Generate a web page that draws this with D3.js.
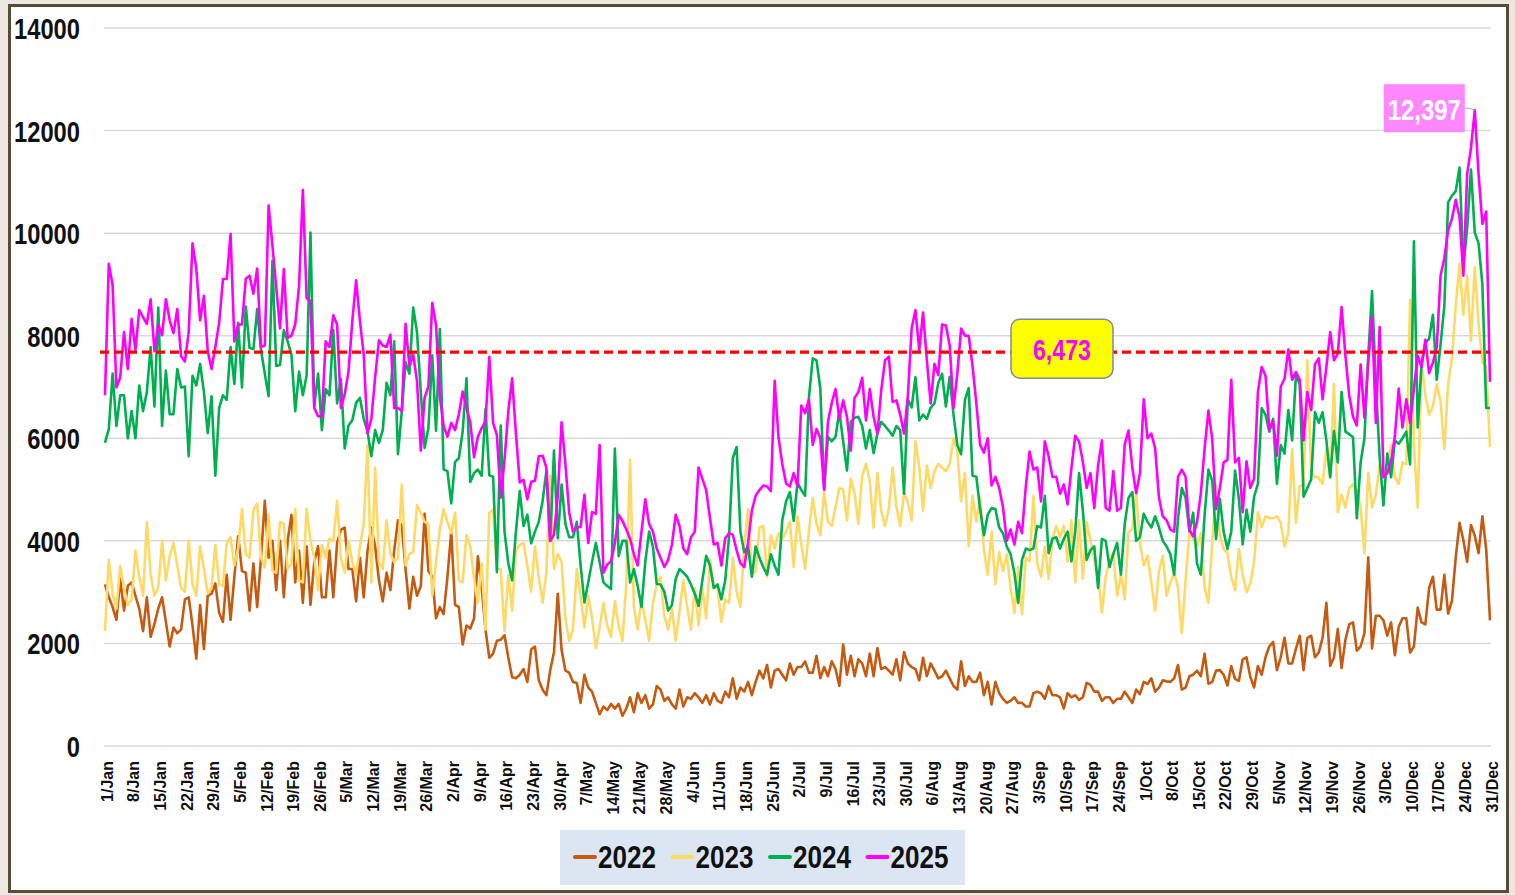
<!DOCTYPE html>
<html>
<head>
<meta charset="utf-8">
<script src="https://cdnjs.cloudflare.com/ajax/libs/d3/7.8.5/d3.min.js"></script>
<style>
  html, body { margin: 0; padding: 0; background: #ebe7e1; }
  svg { display: block; }
  .ylab { font-family: "Liberation Sans", Arial, sans-serif; font-weight: bold; }
  .xlab { font-family: "Liberation Sans", Arial, sans-serif; font-weight: bold; }
</style>
</head>
<body>
<svg id="chart" width="1515" height="895"></svg>
<script>
// ---------------- DATA ----------------
const seriesNames = ["2022", "2023", "2024", "2025"];
const seriesColors = ["#c55a11", "#ffd966", "#00b050", "#ff00ff"];

const yTicks = [0, 2000, 4000, 6000, 8000, 10000, 12000, 14000];

const xTickLabels = ["1/Jan","8/Jan","15/Jan","22/Jan","29/Jan","5/Feb","12/Feb","19/Feb","26/Feb",
  "5/Mar","12/Mar","19/Mar","26/Mar","2/Apr","9/Apr","16/Apr","23/Apr","30/Apr","7/May","14/May",
  "21/May","28/May","4/Jun","11/Jun","18/Jun","25/Jun","2/Jul","9/Jul","16/Jul","23/Jul","30/Jul",
  "6/Aug","13/Aug","20/Aug","27/Aug","3/Sep","10/Sep","17/Sep","24/Sep","1/Oct","8/Oct","15/Oct",
  "22/Oct","29/Oct","5/Nov","12/Nov","19/Nov","26/Nov","3/Dec","10/Dec","17/Dec","24/Dec","31/Dec"];

const averageLineValue = 7680;
const averageLabel = "6,473";
const peakLabel = "12,397";

const values2022 = [
3150,2900,2710,2460,3260,2640,3120,3190,2930,2680,
2240,2900,2130,2380,2680,2900,2420,1940,2310,2200,
2270,2860,2900,2350,1700,2750,1890,2930,2970,3170,
2600,2420,3340,2460,3300,4090,3410,3380,2640,3560,
2710,3670,4780,3670,4000,3040,4000,2900,4000,4510,
3190,3810,2790,3890,2750,3590,3900,2900,2900,3810,
2900,3960,4220,4260,3450,3450,2820,3670,2900,3810,
4260,3890,3230,
2820,3380,3040,3810,4400,4290,3450,2680,3300,2930,
3120,4530,3410,3300,2490,2710,2570,3300,4180,2750,
2710,1980,2350,2290,2490,3700,3080,2270,1720,1800,
2050,2070,2160,1720,1340,1320,1390,1500,1250,1880,
1940,1280,1100,990,1470,1830,2970,1870,1470,1430,
1250,1230,840,1390,1140,1060,840,620,770,700,
820,730,820,590,730,950,660,1030,840,990,
730,810,1170,
1100,880,950,810,730,1100,770,950,920,1030,
950,840,990,810,1030,880,840,1060,950,1320,
920,1140,1060,1250,990,1250,1470,1320,1580,1140,
1470,1500,1390,1280,1610,1390,1540,1540,1650,1430,
1430,1760,1320,1540,1360,1650,1500,1170,1980,1390,
1760,1360,1690,1610,1360,1800,1360,1910,1500,1540,
1470,1390,1690,1280,1830,1610,1540,1500,1280,1720,
1360,1610,1470,1320,1360,
1470,1320,1170,1100,1650,1170,1360,1250,1250,1430,
990,1250,810,1250,1030,920,840,880,950,840,
840,770,770,1030,1060,1030,920,1170,990,990,
950,730,1030,950,990,900,950,1230,1190,1060,
1060,880,950,950,840,920,920,1060,950,840,
1100,1010,1250,1210,1320,1060,1140,1280,1260,1250,
1320,1580,1100,1140,1360,1390,1470,1360,1800,1210,
1250,1470,
1480,1390,1180,1560,1310,1270,1690,1730,1350,1140,
1560,1390,1730,1940,2030,1480,1730,2110,1610,1610,
1900,2150,1480,2110,2150,1730,1820,2110,2790,1560,
1730,2280,1520,2070,2370,2410,1860,1940,2200,3680,
1900,2540,2540,2450,2150,2410,1770,2320,2490,2490,
1820,1940,2700,2410,2370,3080,3300,2660,2660,3340,
2580,2830,3680,4350,4010,3590,4310,4100,3760,4480,
3840,2450];

const values2023 = [
2240,3630,2970,2680,3520,3080,2750,2860,3810,3300,
2930,4370,3340,2930,3080,4000,3230,3700,3960,3520,
3080,3010,4000,3160,2930,3890,3450,2970,3080,3920,
3160,3120,3960,4070,3520,3850,4620,3740,3670,4590,
4730,3670,3480,4510,3410,3380,4370,4330,3450,3560,
4620,3230,3190,4630,4000,3670,3040,3920,3670,4040,
4000,4780,3670,3380,4000,3590,3340,3890,4330,5870,
3190,5430,3590,
3450,4400,3740,3590,3670,5100,3520,3740,3780,4700,
4550,4370,4330,2930,3590,4220,4620,4370,4150,4550,
3230,3190,4110,3890,3260,2790,3560,2270,4550,4610,
3450,3450,2240,3340,2640,3810,3920,3960,3520,3010,
3890,3300,2790,3380,5270,3450,3740,3590,2490,2050,
2270,3450,2930,2310,2930,2490,1910,2310,2790,2350,
2130,2820,2350,2050,3160,5580,2710,2270,2860,2460,
2050,2790,3160,
3300,2530,2270,2680,2050,2640,3230,2710,2270,3080,
2350,3080,2490,3630,3080,3080,2420,2860,2790,3670,
3010,2710,3890,4620,3340,3410,4260,4290,3300,4110,
3850,4150,4040,4180,4370,3490,4480,3930,3450,4180,
4840,4330,4110,4950,4370,4290,4660,5030,5000,4400,
5210,4920,4330,5270,5500,5170,4260,5320,4590,4290,
4620,5430,4660,4290,4930,4770,4400,5940,5430,4590,
5470,5030,5360,5500,5430,
5360,5500,6000,5760,4770,5320,3890,4880,4370,4860,
3820,3340,4180,3150,3780,3410,3740,3080,2600,3490,
2570,3670,3600,4880,3560,3300,3890,3260,4040,4290,
4070,4290,3600,4400,3190,4400,3260,4370,4000,3630,
3340,2600,3300,3600,3780,2930,3340,2860,4180,4220,
4920,3960,3520,3710,3190,2640,3410,3710,2930,3190,
3380,3080,2200,3230,4150,4040,3890,4150,3080,2790,
3960,5100,
4100,3840,3760,3300,3040,3840,3340,3000,3170,3590,
4560,4270,4480,4440,4440,4480,4350,3890,4140,5790,
4350,5070,5070,7520,5370,5240,5240,5110,5790,5240,
7060,4560,4900,4650,5030,5110,4990,4650,3760,5320,
4650,4900,5490,5320,5490,5870,5240,5110,5530,5490,
8700,5870,4650,7480,6840,6460,6630,7060,6720,5790,
7060,7560,8580,9400,8410,9170,7900,9340,8240,7480,
7390,5830];

const values2024 = [
5910,6180,7260,6240,6840,6840,6000,6530,6000,7030,
6530,6900,7780,6620,8550,6240,7320,6470,6470,7350,
6990,7010,5650,7220,7030,7450,6900,6100,6820,5270,
6590,6840,6750,7780,7060,8250,6990,8570,7760,7740,
8520,7720,7260,6820,9460,7410,7430,8110,7890,7630,
6530,7300,6840,7230,10010,6620,7260,6160,6960,6840,
8110,6680,7160,5800,6250,6350,6690,6790,6380,6130,
5650,6160,5910,
6160,7080,6840,7890,5690,6530,7480,7260,8550,8070,
6900,5810,6200,7620,6150,8130,5390,5360,4730,5540,
5610,6130,7170,5150,5320,5390,5270,6570,5280,5250,
3390,6250,4180,3560,3230,4180,4970,4290,4510,3950,
4180,4370,4770,5360,4000,5760,4050,5100,4330,4070,
4070,4370,3520,2800,3190,3590,3960,3590,3190,3120,
3060,5800,3700,4000,4000,3190,3450,3120,2710,3590,
4180,3890,3160,
3150,3010,2640,2750,3260,3450,3380,3300,3150,2970,
2730,3230,3710,3520,3080,3150,2860,3230,4070,5610,
5830,4180,3780,3890,3300,3890,3670,3490,3340,3740,
3520,3340,4400,4770,4950,4390,5140,4990,4880,6790,
7560,7520,6970,5000,6030,5940,6030,6530,5940,5370,
6320,6400,6420,6240,5800,6160,5710,6090,6320,6240,
6150,6050,6240,6160,4920,6760,6600,7190,6350,6460,
6380,6600,6680,7080,7260,
6620,7200,6460,5870,5690,6750,6980,5270,5250,4620,
4110,4510,4640,4620,4260,4150,3890,3740,3380,2790,
3630,3850,3820,3850,4290,4260,4880,3760,4040,4070,
3850,4040,4180,3600,4180,5320,4590,3630,3820,3890,
3080,4040,4000,3490,3740,3960,3340,4330,4840,4950,
4000,4070,4530,4370,4260,4480,4260,4000,3890,3740,
3340,4440,5030,4840,4180,4550,3560,3340,4510,5390,
5170,4040,
4820,4180,3840,4180,5370,4820,3930,4610,4180,4860,
5110,6590,6460,6130,6380,5110,5870,5700,6550,5960,
7220,7060,4860,5030,5200,6510,6300,6510,5960,5240,
6140,5530,6900,6130,6080,6020,4440,5530,6000,7610,
8870,7060,5620,4690,5700,5240,5960,5890,6000,6130,
5490,9840,6210,7440,7860,7940,8410,7140,7820,8580,
10600,10730,10820,11280,9340,10100,11240,10010,9800,9000,
6590,6590];

const values2025 = [
6840,9400,8990,6990,7190,8070,7350,8330,7720,8500,
8360,8230,8710,7700,8220,8010,8710,8300,8050,8520,
7600,7500,8070,9800,9310,8300,8780,7700,7350,7780,
8250,9100,9110,9980,7890,8220,8220,9110,9170,8820,
9310,7780,7810,10540,9760,8950,8140,9300,7960,8000,
8220,8970,10840,8730,8670,6590,6430,6430,7890,7780,
8400,8220,6590,6860,7300,8290,9080,8290,7630,6100,
6380,7190,7910,
7810,7780,8020,6590,6590,6530,8230,7410,7630,7120,
5760,6790,7010,8640,8220,6820,6240,6030,6300,6160,
6470,6910,6600,6310,5630,6030,6200,6320,7590,6300,
6060,4840,5580,6530,7170,6090,5140,5190,4810,5150,
5170,5650,5660,5430,4000,4120,4880,6310,5500,4550,
4180,4260,4270,4900,3960,4560,4530,5870,3380,3540,
3600,3960,4510,4390,4220,4040,3740,3520,4180,4810,
4330,4180,3850,
3670,3490,3630,3930,4510,4290,3850,3740,4070,4180,
5430,5210,4990,4440,3930,3960,3520,4050,4150,4120,
3820,3560,3490,3960,4590,4880,4990,5080,5060,4970,
7120,6020,5500,5120,5060,5320,5060,6640,6490,6760,
5870,6180,6000,5000,6320,6690,6960,6380,6740,6420,
5760,6790,6900,7180,6350,6960,6420,6090,6930,7520,
7590,6710,6740,6460,6090,6820,8140,8500,7720,8450,
7520,6680,7450,7230,8220,
8200,7810,6590,7260,8140,8000,8000,7410,6680,5870,
5720,6000,5080,5250,5030,4660,4000,4220,3930,4370,
4150,5060,5740,5390,5430,4770,5940,5650,5250,5250,
4920,5100,4710,5430,6050,5940,5540,5030,5320,4640,
5470,5960,4640,4590,5360,4590,4640,5880,6150,5430,
4930,5320,6760,6000,6090,5800,4840,4480,4400,4220,
4180,5250,5390,5250,4220,4090,4370,4920,5810,6540,
5980,4620,
5030,5530,5580,7140,5530,5620,4560,5550,5030,5210,
6900,7390,7220,6170,6340,5660,7010,7160,7730,7140,
7290,7140,5960,6900,6550,7440,7560,6760,7390,8070,
7520,7650,8560,7610,6840,6420,6250,7440,6400,7480,
8370,6300,8170,5240,5320,5550,6040,6970,6210,6760,
6300,6970,7610,7390,7920,7270,7480,7770,9170,9510,
10060,10280,10650,10310,9170,11150,11660,12397,11150,10180,
10420,7100];

const allSeries = [values2022, values2023, values2024, values2025];

// ---------------- LAYOUT ----------------
const W = 1515, H = 895;
const plot = { left: 105, right: 1490, top: 28, bottom: 746 };
const DIGIT_W = 13.2; // rendered width of one bold digit in the condensed labels

const svg = d3.select("#chart");

function condense(sel, perChar) {
  sel.attr("textLength", function () {
    const t = this.textContent;
    let w = 0;
    for (const c of t) w += (c === "," ? 0.5 : 1) * perChar;
    return w;
  }).attr("lengthAdjust", "spacingAndGlyphs");
}

// outer frame
svg.append("rect").attr("x", 0).attr("y", 0).attr("width", W).attr("height", H).attr("fill", "#ebe7e1");
svg.append("rect").attr("x", 9.5).attr("y", 5.5).attr("width", 1498).attr("height", 886)
  .attr("fill", "#ffffff").attr("stroke", "#5a4a36").attr("stroke-width", 3);

const nDays = values2025.length;
const x = d3.scaleLinear().domain([1, nDays]).range([plot.left, plot.right]);
const y = d3.scaleLinear().domain([0, 14000]).range([plot.bottom, plot.top]);

// gridlines
svg.append("g").selectAll("line").data(yTicks).join("line")
  .attr("x1", plot.left - 1).attr("x2", plot.right + 1)
  .attr("y1", d => y(d)).attr("y2", d => y(d))
  .attr("stroke", "#d9d9d9").attr("stroke-width", 1.5);

// y axis labels
const yAxis = d3.axisLeft(y).tickValues(yTicks).tickSize(0).tickPadding(0).tickFormat(d3.format("d"));
const gy = svg.append("g").attr("transform", "translate(80,0)").call(yAxis);
gy.select(".domain").remove();
gy.selectAll("text").attr("class", "ylab").attr("font-size", 29).attr("fill", "#111")
  .attr("dy", "0.36em").call(condense, DIGIT_W);

// x axis labels (weekly)
const tickDays = xTickLabels.map((_, i) => 1 + i * 7);
const xAxis = d3.axisBottom(x).tickValues(tickDays).tickSize(0)
  .tickFormat((d, i) => xTickLabels[i]);
const gx = svg.append("g").attr("transform", `translate(0,${plot.bottom})`).call(xAxis);
gx.select(".domain").remove();
gx.selectAll("text")
  .attr("class", "xlab")
  .attr("font-size", 16)
  .attr("fill", "#111")
  .attr("text-anchor", "end")
  .attr("transform", "rotate(-90)")
  .attr("x", -15)
  .attr("y", 1.5)
  .attr("dy", "0.36em");

// series lines
const line = d3.line().x((d, i) => x(i + 1)).y(d => y(d)).curve(d3.curveLinear);
svg.append("g").selectAll("path").data(allSeries).join("path")
  .attr("d", d => line(d))
  .attr("fill", "none")
  .attr("stroke", (d, i) => seriesColors[i])
  .attr("stroke-width", 2.6)
  .attr("stroke-linejoin", "round");

// average dashed line
svg.append("line")
  .attr("x1", plot.left - 5).attr("x2", plot.right)
  .attr("y1", y(averageLineValue)).attr("y2", y(averageLineValue))
  .attr("stroke", "#ff0000").attr("stroke-width", 3.2).attr("stroke-dasharray", "9,5");

// average label box
const avgX = 1062, avgY = y(averageLineValue);
svg.append("rect").attr("x", avgX - 51).attr("y", avgY - 33).attr("width", 102).attr("height", 59)
  .attr("rx", 9).attr("fill", "#ffff00").attr("stroke", "#7d8ba0").attr("stroke-width", 1.5);
svg.append("text").attr("class", "ylab").attr("x", avgX).attr("y", avgY + 8)
  .attr("text-anchor", "middle").attr("font-size", 29).attr("fill", "#ff00ff").text(averageLabel)
  .call(condense, 12.9);

// peak label
const peakIdx = values2025.indexOf(d3.max(values2025));
const px = x(peakIdx + 1), py = y(values2025[peakIdx]);
svg.append("path")
  .attr("d", `M${px - 11},${py - 2} Q${px - 4},${py - 3} ${px},${py}`)
  .attr("fill", "none").attr("stroke", "#a6a6a6").attr("stroke-width", 1);
svg.append("rect").attr("x", px - 91).attr("y", py - 26).attr("width", 81).attr("height", 48)
  .attr("fill", "#ff88ff");
svg.append("text").attr("class", "ylab").attr("x", px - 50.5).attr("y", py + 10)
  .attr("text-anchor", "middle").attr("font-size", 29).attr("fill", "#ffffff").text(peakLabel)
  .call(condense, 13.3);

// legend
const lg = svg.append("g");
lg.append("rect").attr("x", 560).attr("y", 830).attr("width", 405).attr("height", 55).attr("fill", "#dce6f2");
seriesNames.forEach((name, i) => {
  const ox = 575 + i * 97.5;
  lg.append("line").attr("x1", ox).attr("x2", ox + 20).attr("y1", 857).attr("y2", 857)
    .attr("stroke", seriesColors[i]).attr("stroke-width", 4).attr("stroke-linecap", "round");
  lg.append("text").attr("class", "ylab").attr("x", ox + 23).attr("y", 868)
    .attr("font-size", 32).attr("fill", "#111").text(name)
    .call(condense, 14.5);
});
</script>
</body>
</html>
